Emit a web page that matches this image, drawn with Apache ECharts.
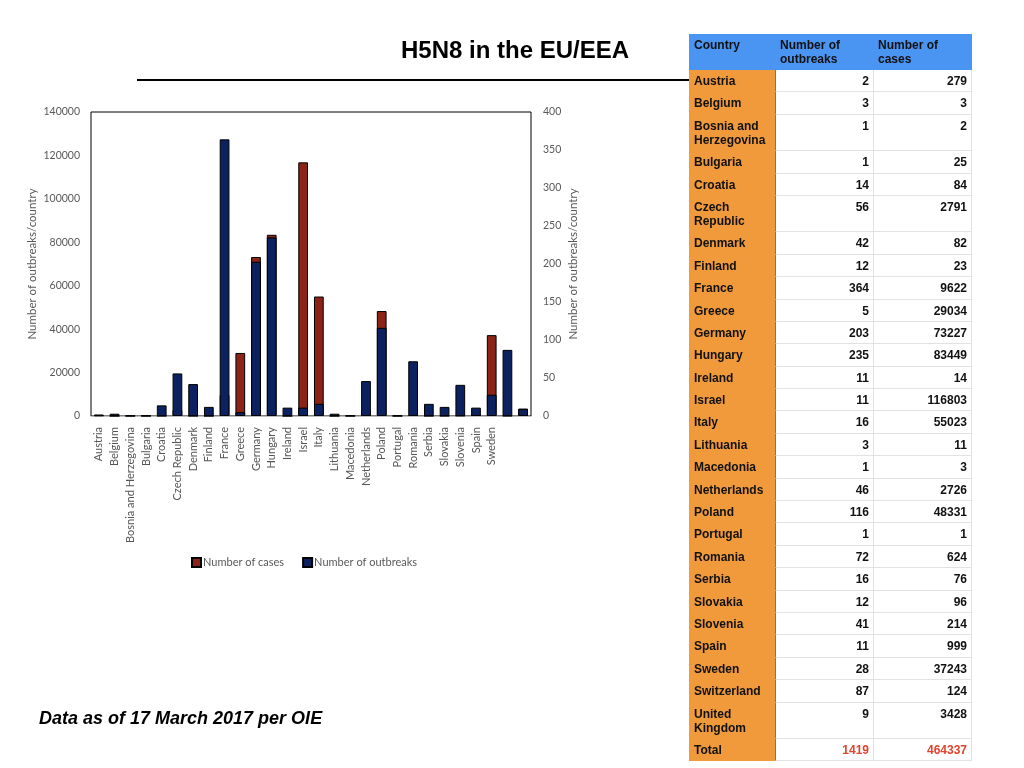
<!DOCTYPE html>
<html>
<head>
<meta charset="utf-8">
<script src="https://cdn.jsdelivr.net/npm/echarts@6/dist/echarts.min.js"></script>
<style>
  html, body { margin: 0; padding: 0; background: #fff; }
  #chart { position: absolute; left: 0; top: 0; width: 1024px; height: 768px; }
  #tbl {
    position: absolute; left: 689px; top: 34px; width: 282px;
    border-collapse: collapse; table-layout: fixed;
    font-family: "Liberation Sans", Arial, sans-serif; font-weight: bold; font-size: 12px;
    color: #111;
  }
  #tbl td, #tbl th {
    padding: 4px 4px 3.4px 4px; line-height: 14px; vertical-align: top;
    border: 1px solid #e2e2e2; overflow: hidden;
  }
  #tbl th { background: #4a94f2; text-align: left; font-weight: bold; white-space: pre-line; border-color: #4a94f2; padding: 3px 4px 3px 4px; }
  #tbl td.name { background: #f09a3c; text-align: left; border-color: #f09a3c; border-right: 1px solid #b06a20; }
  #tbl td.num { text-align: right; background: #fff; }
  #tbl tr.total td.num { color: #e0442c; }
</style>
</head>
<body>
<div id="chart"></div>
<table id="tbl"></table>
<script>
const echarts = window.echarts

// 数据
const countries = ['Austria', 'Belgium', 'Bosnia and Herzegovina', 'Bulgaria', 'Croatia', 'Czech Republic',
  'Denmark', 'Finland', 'France', 'Greece', 'Germany', 'Hungary', 'Ireland', 'Israel', 'Italy',
  'Lithuania', 'Macedonia', 'Netherlands', 'Poland', 'Portugal', 'Romania', 'Serbia', 'Slovakia',
  'Slovenia', 'Spain', 'Sweden', 'Switzerland', 'United Kingdom']
const outbreaks = [2, 3, 1, 1, 14, 56, 42, 12, 364, 5, 203, 235, 11, 11, 16, 3, 1, 46, 116, 1, 72, 16, 12, 41, 11, 28, 87, 9]
const cases = [279, 3, 2, 25, 84, 2791, 82, 23, 9622, 29034, 73227, 83449, 14, 116803, 55023, 11, 3, 2726, 48331, 1, 624, 76, 96, 214, 999, 37243, 124, 3428]
// 图上只标注到 Sweden
const labeledCount = 26
const tableHeaders = ['Country', 'Number of\noutbreaks', 'Number of\ncases']
const leftTicks = [0, 140000, 20000]
const rightTicks = [0, 400, 50]

// 表格
const buildTable = function () {
  let tbl = document.getElementById('tbl')
  let html = '<colgroup><col style="width:86px"><col style="width:98px"><col style="width:98px"></colgroup>'
  html += '<tr>' + tableHeaders.map(h => '<th>' + h + '</th>').join('') + '</tr>'
  countries.forEach((c, i) => {
    html += '<tr><td class="name">' + c + '</td><td class="num">' + outbreaks[i] + '</td><td class="num">' + cases[i] + '</td></tr>'
  })
  let sumO = outbreaks.reduce((a, b) => a + b, 0)
  let sumC = cases.reduce((a, b) => a + b, 0)
  html += '<tr class="total"><td class="name">Total</td><td class="num">' + sumO + '</td><td class="num">' + sumC + '</td></tr>'
  tbl.innerHTML = html
}
buildTable()

const axisFont = 'Lato, "Open Sans", sans-serif'
const plain = function (v) { return String(v) }
const myChart = echarts.init(document.getElementById('chart'))
const option = {
  animation: false,
  graphic: [
    {
      type: 'text', left: 401, top: 39,
      style: { text: 'H5N8 in the EU/EEA', font: 'bold 24px "Liberation Sans", Arial, sans-serif', fill: '#000' }
    },
    {
      type: 'line', shape: { x1: 137, y1: 80, x2: 690, y2: 80 },
      style: { stroke: '#000', lineWidth: 2 }
    },
    {
      type: 'text', left: 39, top: 710,
      style: { text: 'Data as of 17 March 2017 per OIE', font: 'italic bold 18px "Liberation Sans", Arial, sans-serif', fill: '#000' }
    }
  ],
  legend: {
    left: 186, top: 552,
    itemWidth: 9, itemHeight: 9, itemGap: 18,
    icon: 'rect',
    textStyle: { fontFamily: axisFont, fontSize: 11, color: '#595959', padding: [0, 0, 0, -3] },
    data: ['Number of cases', 'Number of outbreaks']
  },
  grid: {
    left: 91, top: 112, width: 440, height: 304,
    show: true, borderColor: '#000', borderWidth: 1
  },
  xAxis: {
    type: 'category',
    data: countries,
    axisTick: { show: false },
    axisLine: { lineStyle: { color: '#bfbfbf' } },
    axisLabel: {
      rotate: 90, interval: 0, margin: 11,
      fontFamily: axisFont, fontSize: 11, color: '#555',
      formatter: function (v, i) { return i < labeledCount ? v : '' }
    }
  },
  yAxis: [
    {
      type: 'value', min: leftTicks[0], max: leftTicks[1], interval: leftTicks[2],
      name: 'Number of outbreaks/country', nameLocation: 'middle', nameGap: 53,
      nameTextStyle: { fontFamily: axisFont, fontSize: 11.5, color: '#595959' },
      splitLine: { show: false }, axisLine: { show: false }, axisTick: { show: false },
      axisLabel: { fontFamily: axisFont, fontSize: 10.5, color: '#595959', margin: 11, formatter: plain }
    },
    {
      type: 'value', min: rightTicks[0], max: rightTicks[1], interval: rightTicks[2],
      name: 'Number of outbreaks/country', nameLocation: 'middle', nameGap: 36,
      nameTextStyle: { fontFamily: axisFont, fontSize: 11.5, color: '#595959' },
      splitLine: { show: false }, axisLine: { show: false }, axisTick: { show: false },
      axisLabel: { fontFamily: axisFont, fontSize: 10.5, color: '#595959', margin: 12, formatter: plain }
    }
  ],
  series: [
    {
      name: 'Number of cases', type: 'bar', yAxisIndex: 0,
      data: cases, barWidth: '62%', barGap: '-100%',
      itemStyle: { color: '#8b2318', borderColor: '#000', borderWidth: 1 }
    },
    {
      name: 'Number of outbreaks', type: 'bar', yAxisIndex: 1,
      data: outbreaks, barWidth: '62%', barGap: '-100%',
      itemStyle: { color: '#0c2160', borderColor: '#000', borderWidth: 1 }
    }
  ]
}
myChart.setOption(option)
</script>
</body>
</html>
